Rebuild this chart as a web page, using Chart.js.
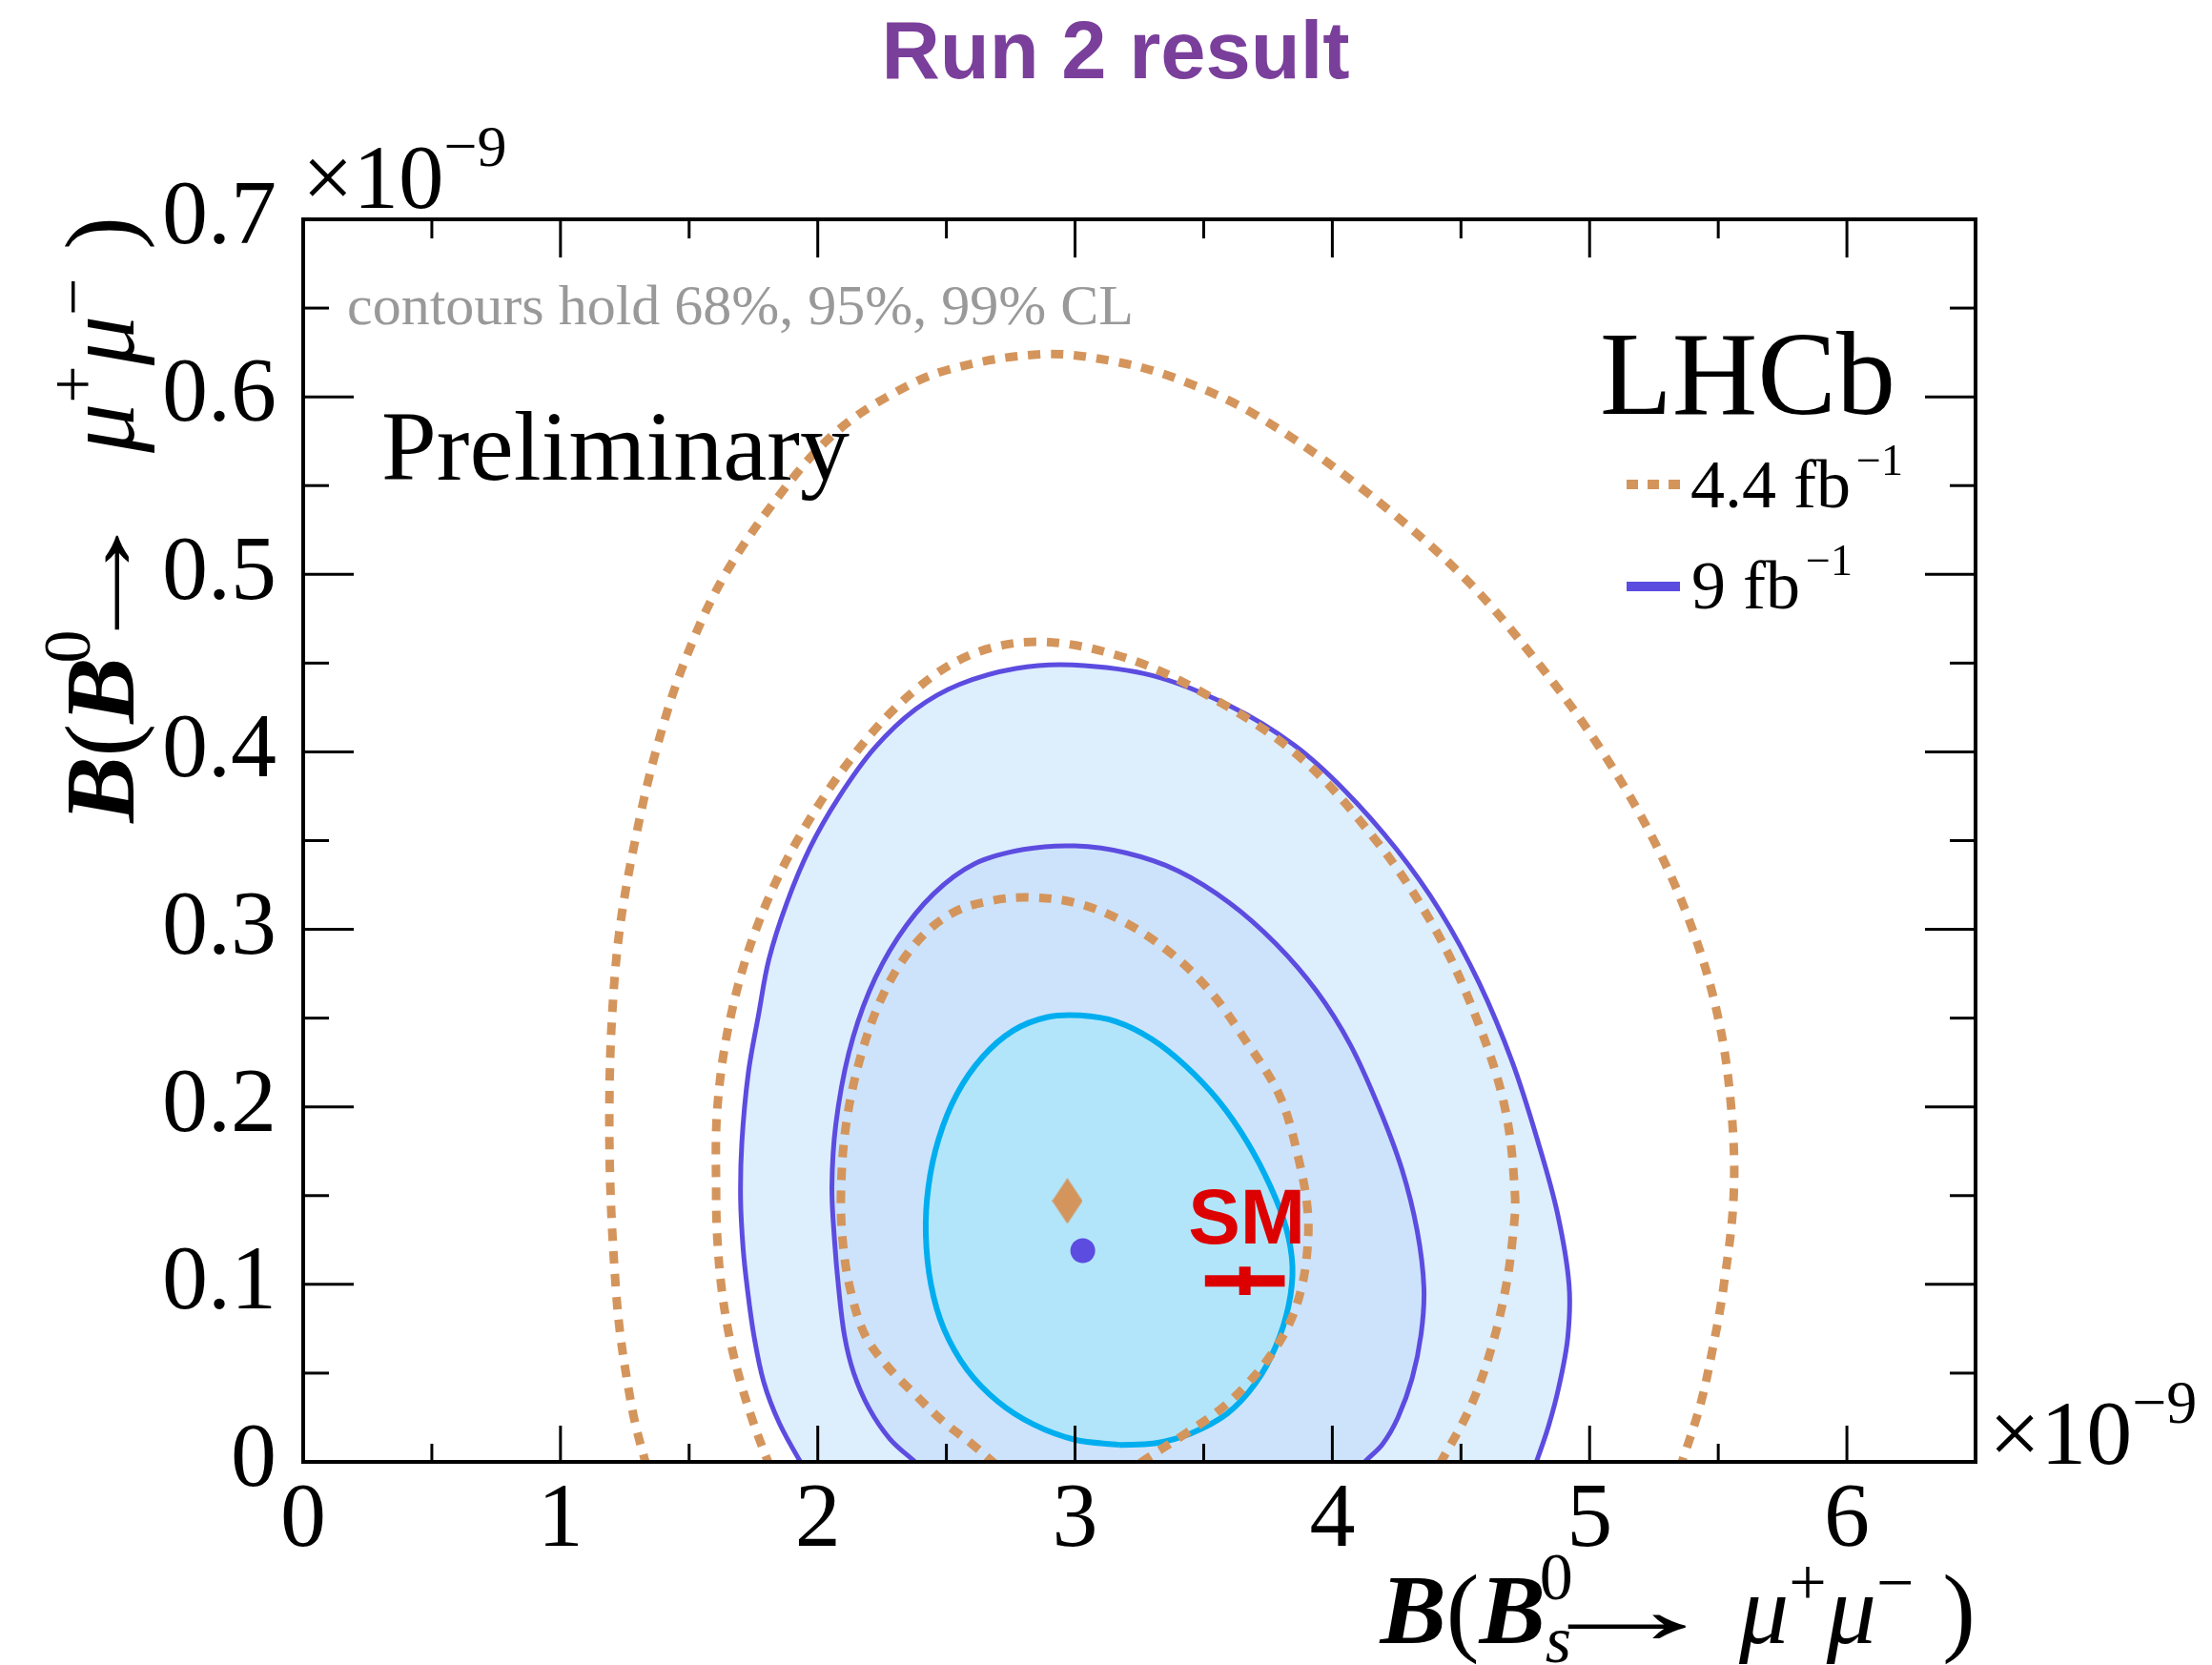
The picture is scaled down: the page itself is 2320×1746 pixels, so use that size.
<!DOCTYPE html>
<html>
<head>
<meta charset="utf-8">
<title>Run 2 result</title>
<script src="https://cdn.jsdelivr.net/npm/chart.js@4/dist/chart.umd.min.js"></script>
<style>
  html, body { margin: 0; padding: 0; background: #ffffff; }
  canvas { display: block; }
</style>
</head>
<body>
<canvas id="chart" width="2320" height="1746"></canvas>
<script>
// Axis ticks, branching fractions in units of 1e-9
const xTickValues = [0, 1, 2, 3, 4, 5, 6];
const xTickLabels = ['0', '1', '2', '3', '4', '5', '6'];
const yTickValues = [0, 0.1, 0.2, 0.3, 0.4, 0.5, 0.6, 0.7];
const yTickLabels = ['0', '0.1', '0.2', '0.3', '0.4', '0.5', '0.6', '0.7'];

// 9 fb^-1 likelihood contours, points as [B(Bs->mumu), B(B0->mumu)]
const full68 = [[3.17,0.0096],[3.0,0.0125],[2.84,0.021],[2.70,0.034],[2.58,0.052],[2.49,0.075],[2.44,0.1],[2.42,0.128],[2.43,0.155],[2.47,0.182],[2.54,0.207],[2.64,0.228],[2.76,0.243],[2.89,0.2505],[3.02,0.2515],[3.16,0.248],[3.30,0.238],[3.43,0.223],[3.56,0.203],[3.67,0.18],[3.76,0.155],[3.82,0.132],[3.845,0.11],[3.83,0.088],[3.78,0.065],[3.70,0.044],[3.59,0.027],[3.45,0.016],[3.31,0.0105],[3.17,0.0096]];
const full95 = [[2.47,-0.012],[2.378,0],[2.28,0.013],[2.2,0.03],[2.14,0.05],[2.104,0.071],[2.081,0.098],[2.065,0.125],[2.055,0.155],[2.07,0.19],[2.12,0.23],[2.20,0.265],[2.31,0.295],[2.45,0.32],[2.61,0.337],[2.80,0.345],[3.0,0.347],[3.2,0.343],[3.40,0.333],[3.60,0.315],[3.78,0.292],[3.94,0.265],[4.07,0.235],[4.18,0.2],[4.27,0.165],[4.33,0.13],[4.356,0.098],[4.345,0.072],[4.31,0.047],[4.255,0.025],[4.195,0.01],[4.126,0],[4.06,-0.012]];
const full99 = [[2.0,-0.015],[1.933,0],[1.85,0.022],[1.79,0.045],[1.752,0.071],[1.726,0.098],[1.71,0.12],[1.70,0.148],[1.705,0.18],[1.73,0.219],[1.77,0.252],[1.81,0.283],[1.88,0.315],[1.97,0.346],[2.08,0.374],[2.22,0.402],[2.38,0.424],[2.55,0.438],[2.77,0.447],[2.99,0.449],[3.3,0.443],[3.6,0.426],[3.85,0.404],[4.05,0.378],[4.25,0.345],[4.42,0.31],[4.57,0.27],[4.70,0.225],[4.80,0.18],[4.875,0.14],[4.92,0.1],[4.915,0.07],[4.88,0.042],[4.84,0.02],[4.793,0],[4.74,-0.02]];

// 4.4 fb^-1 likelihood contours
const early68 = [[2.76,-0.01],[2.68,0],[2.60,0.01],[2.485,0.023],[2.378,0.038],[2.27,0.054],[2.185,0.071],[2.13,0.095],[2.10,0.12],[2.09,0.15],[2.11,0.19],[2.17,0.23],[2.26,0.265],[2.38,0.292],[2.52,0.309],[2.67,0.316],[2.82,0.318],[3.0,0.315],[3.18,0.305],[3.36,0.288],[3.52,0.266],[3.66,0.238],[3.796,0.206],[3.87,0.17],[3.905,0.14],[3.90,0.115],[3.875,0.095],[3.83,0.077],[3.76,0.06],[3.67,0.044],[3.56,0.029],[3.43,0.016],[3.26,0],[3.12,-0.015]];
const early95 = [[1.85,-0.015],[1.807,0],[1.75,0.022],[1.70,0.045],[1.656,0.071],[1.626,0.098],[1.61,0.125],[1.605,0.15],[1.61,0.2],[1.66,0.25],[1.76,0.3],[1.92,0.35],[2.15,0.4],[2.38,0.435],[2.6,0.455],[2.85,0.462],[3.15,0.455],[3.45,0.437],[3.85,0.4],[4.17,0.35],[4.4,0.3],[4.56,0.25],[4.67,0.2],[4.71,0.15],[4.70,0.125],[4.674,0.098],[4.62,0.065],[4.54,0.032],[4.422,0],[4.36,-0.015]];
const early99 = [[1.36,-0.015],[1.33,0],[1.29,0.022],[1.26,0.045],[1.233,0.071],[1.215,0.098],[1.195,0.15],[1.19,0.2],[1.20,0.25],[1.23,0.3],[1.29,0.35],[1.37,0.4],[1.48,0.45],[1.64,0.5],[1.88,0.55],[2.07,0.58],[2.27,0.60],[2.5,0.615],[2.87,0.624],[3.15,0.62],[3.4,0.61],[3.7,0.59],[4.1,0.55],[4.5,0.5],[4.8,0.45],[5.05,0.4],[5.25,0.35],[5.4,0.3],[5.5,0.25],[5.55,0.2],[5.56,0.15],[5.52,0.098],[5.48,0.065],[5.43,0.032],[5.359,0],[5.31,-0.02]];

// Best-fit points
const bestFull = [3.03, 0.119];
const bestEarly = [2.97, 0.147];

// Standard Model prediction and its uncertainties
const smCentre = [3.66, 0.102];
const smError = [0.155, 0.008];

const PURPLE = '#5c4ce0';
const CYAN = '#00aeef';
const ORANGE = '#d4955c';
const RED = '#dd0000';
const FILL99 = '#ddeefd';
const FILL95 = '#cde3fb';
const FILL68 = '#b3e5fa';
const SERIF = "'Liberation Serif', 'Times New Roman', serif";
const SANS = "'Liberation Sans', Arial, sans-serif";

const pts = arr => arr.map(([x, y]) => ({x, y}));

// elongated diamond marker for the 4.4 fb^-1 best fit
const diamond = document.createElement('canvas');
diamond.width = 32; diamond.height = 48;
(() => {
  const c = diamond.getContext('2d');
  c.fillStyle = ORANGE;
  c.beginPath();
  c.moveTo(16, 0); c.lineTo(32, 24); c.lineTo(16, 48); c.lineTo(0, 24);
  c.closePath(); c.fill();
})();

function contour(data, color, width, fill, order, dash) {
  return {
    data: pts(data), showLine: true, borderColor: color, borderWidth: width,
    backgroundColor: fill || 'rgba(0,0,0,0)', fill: fill ? 'shape' : false,
    borderDash: dash || [], pointRadius: 0, tension: 0.35, order: order, clip: 0
  };
}

const datasets = [
  // SM error bars
  { data: pts([[smCentre[0] - smError[0], smCentre[1]], [smCentre[0] + smError[0], smCentre[1]]]),
    showLine: true, borderColor: RED, borderWidth: 12, pointRadius: 0, fill: false, order: 0 },
  { data: pts([[smCentre[0], smCentre[1] - smError[1]], [smCentre[0], smCentre[1] + smError[1]]]),
    showLine: true, borderColor: RED, borderWidth: 12, pointRadius: 0, fill: false, order: 0 },
  // best-fit markers
  { data: pts([bestEarly]), pointStyle: diamond, pointRadius: 16, showLine: false, order: 1 },
  { data: pts([bestFull]), pointStyle: 'circle', pointRadius: 13, backgroundColor: PURPLE,
    borderWidth: 0, showLine: false, order: 1 },
  // 4.4 fb^-1
  contour(early68, ORANGE, 9, null, 3, [13, 11]),
  contour(early95, ORANGE, 9, null, 3, [13, 11]),
  contour(early99, ORANGE, 9, null, 3, [13, 11]),
  // 9 fb^-1 filled regions, outermost at the back
  contour(full68, CYAN, 6, FILL68, 7),
  contour(full95, PURPLE, 5, FILL95, 8),
  contour(full99, PURPLE, 5, FILL99, 9)
];

// draws a row of differently styled text pieces (sub/superscripts, stretched glyphs)
function drawRuns(ctx, runs, x, y, align) {
  const widths = runs.map(r => {
    if (r.gap !== undefined) return r.gap;
    ctx.font = r.font;
    return r.noAdvance ? 0 : ctx.measureText(r.text).width * (r.sx || 1) + (r.dx || 0);
  });
  const total = widths.reduce((a, b) => a + b, 0);
  let cx = align === 'right' ? x - total : (align === 'center' ? x - total / 2 : x);
  runs.forEach((r, i) => {
    if (r.text) {
      ctx.font = r.font;
      ctx.save();
      ctx.translate(cx + (r.ox || 0), y + (r.dy || 0));
      if (r.sx) ctx.scale(r.sx, 1);
      ctx.fillText(r.text, 0, 0);
      ctx.restore();
    }
    cx += widths[i];
  });
}

const T = 104, S = 70;
const bi = `italic bold ${T}px ${SERIF}`;
const rg = `${T}px ${SERIF}`;
const it = `italic ${T}px ${SERIF}`;
const sc = `${S}px ${SERIF}`;
const sci = `italic ${S}px ${SERIF}`;

const xTitleRuns = [
  {text: 'B', font: bi}, {text: '(', font: rg}, {text: 'B', font: bi},
  {text: '0', font: sc, dy: -46, noAdvance: true, ox: -6}, {text: 's', font: sci, dy: 20, dx: 2},
  {text: '\u2192', font: rg, sx: 2.0, ox: -48, dx: -96}, {gap: 62},
  {text: '\u03bc', font: it}, {text: '+', font: sc, dy: -40},
  {text: '\u03bc', font: it}, {text: '\u2212', font: sc, dy: -40}, {gap: 30},
  {text: ')', font: rg}
];
const yTitleRuns = [
  {text: 'B', font: bi}, {text: '(', font: rg}, {text: 'B', font: bi},
  {text: '0', font: sc, dy: -46, ox: -6, dx: -2},
  {text: '\u2192', font: rg, sx: 1.6, ox: -38, dx: -77}, {gap: 92},
  {text: '\u03bc', font: it}, {text: '+', font: sc, dy: -40},
  {text: '\u03bc', font: it}, {text: '\u2212', font: sc, dy: -40}, {gap: 30},
  {text: ')', font: rg}
];

const decor = {
  id: 'decor',
  afterDatasetsDraw(chart) {
    const {ctx, chartArea: a, scales: {x, y}} = chart;
    ctx.save();
    ctx.strokeStyle = '#000';
    ctx.lineWidth = 3;
    const seg = (x1, y1, x2, y2) => { ctx.beginPath(); ctx.moveTo(x1, y1); ctx.lineTo(x2, y2); ctx.stroke(); };
    xTickValues.forEach(v => {
      const p = x.getPixelForValue(v);
      seg(p, a.bottom, p, a.bottom - 38); seg(p, a.top, p, a.top + 40);
      const m = x.getPixelForValue(v + 0.5);
      if (m < a.right - 2) { seg(m, a.bottom, m, a.bottom - 19); seg(m, a.top, m, a.top + 20); }
    });
    yTickValues.forEach(v => {
      const p = y.getPixelForValue(v);
      seg(a.left, p, a.left + 53, p); seg(a.right, p, a.right - 53, p);
      const m = y.getPixelForValue(v + 0.05);
      if (m > a.top + 2) { seg(a.left, m, a.left + 27, m); seg(a.right, m, a.right - 27, m); }
    });
    ctx.lineWidth = 4;
    ctx.strokeRect(a.left, a.top, a.right - a.left, a.bottom - a.top);
    ctx.restore();
  },
  afterDraw(chart) {
    const {ctx, chartArea: a, scales: {x, y}} = chart;
    ctx.save();
    ctx.textBaseline = 'alphabetic';
    ctx.textAlign = 'left';
    ctx.fillStyle = '#000';

    // exponent labels
    drawRuns(ctx, [{text: '\u00d710', font: `95px ${SERIF}`}, {text: '\u22129', font: `62px ${SERIF}`, dy: -44}], a.left - 1, 218, 'left');
    drawRuns(ctx, [{text: '\u00d710', font: `96px ${SERIF}`}, {text: '\u22129', font: `64px ${SERIF}`, dy: -43}], a.right + 14, 1535, 'left');

    // axis titles
    drawRuns(ctx, xTitleRuns, a.right, 1723, 'right');
    ctx.save();
    ctx.translate(140, a.top - 3);
    ctx.rotate(-Math.PI / 2);
    drawRuns(ctx, yTitleRuns, 0, 0, 'right');
    ctx.restore();

    // labels inside the frame
    ctx.fillStyle = '#999999';
    ctx.font = `60px ${SERIF}`;
    ctx.fillText('contours hold 68%, 95%, 99% CL', 364, 340);
    ctx.fillStyle = '#000';
    ctx.font = `104px ${SERIF}`;
    ctx.fillText('Preliminary', 400, 503);
    ctx.font = `124px ${SERIF}`;
    ctx.fillText('LHCb', 1678, 434);

    // legend
    ctx.save();
    ctx.lineWidth = 10;
    ctx.strokeStyle = ORANGE;
    ctx.setLineDash([12, 10]);
    ctx.beginPath(); ctx.moveTo(1706, 508); ctx.lineTo(1762, 508); ctx.stroke();
    ctx.setLineDash([]);
    ctx.strokeStyle = PURPLE;
    ctx.beginPath(); ctx.moveTo(1706, 615); ctx.lineTo(1762, 615); ctx.stroke();
    ctx.restore();
    drawRuns(ctx, [{text: '4.4 fb', font: `72px ${SERIF}`, dx: 6}, {text: '\u22121', font: `46px ${SERIF}`, dy: -34}], 1773, 532, 'left');
    drawRuns(ctx, [{text: '9 fb', font: `72px ${SERIF}`, dx: 6}, {text: '\u22121', font: `46px ${SERIF}`, dy: -35}], 1774, 638, 'left');

    // SM label above its marker
    ctx.fillStyle = RED;
    ctx.font = `bold 82px ${SANS}`;
    ctx.textAlign = 'center';
    ctx.fillText('SM', x.getPixelForValue(smCentre[0]) + 2, y.getPixelForValue(smCentre[1]) - 39);

    // title
    ctx.fillStyle = '#7a3f9b';
    ctx.font = `bold 85px ${SANS}`;
    ctx.fillText('Run 2 result', 1170, 82);
    ctx.restore();
  }
};

new Chart(document.getElementById('chart'), {
  type: 'scatter',
  data: { datasets },
  options: {
    responsive: false,
    devicePixelRatio: 1,
    animation: false,
    events: [],
    layout: { padding: { left: 0, right: 248, top: 230, bottom: 0 } },
    elements: { line: { capBezierPoints: false } },
    plugins: { legend: { display: false }, tooltip: { enabled: false } },
    scales: {
      x: {
        type: 'linear', min: 0, max: 6.5,
        grid: { display: false, drawTicks: false }, border: { display: false },
        afterBuildTicks: s => { s.ticks = xTickValues.map(v => ({value: v})); },
        afterFit: s => { s.height = 213; },
        ticks: { callback: (v, i) => xTickLabels[i], autoSkip: false, maxRotation: 0, minRotation: 0,
                 padding: 5, color: '#000', font: { family: SERIF, size: 96 } }
      },
      y: {
        type: 'linear', min: 0, max: 0.7,
        grid: { display: false, drawTicks: false }, border: { display: false },
        afterBuildTicks: s => { s.ticks = yTickValues.map(v => ({value: v})); },
        afterFit: s => { s.width = 318; },
        ticks: { callback: (v, i) => yTickLabels[i], autoSkip: false, padding: 28,
                 color: '#000', font: { family: SERIF, size: 96 } }
      }
    }
  },
  plugins: [decor]
});
</script>
</body>
</html>
